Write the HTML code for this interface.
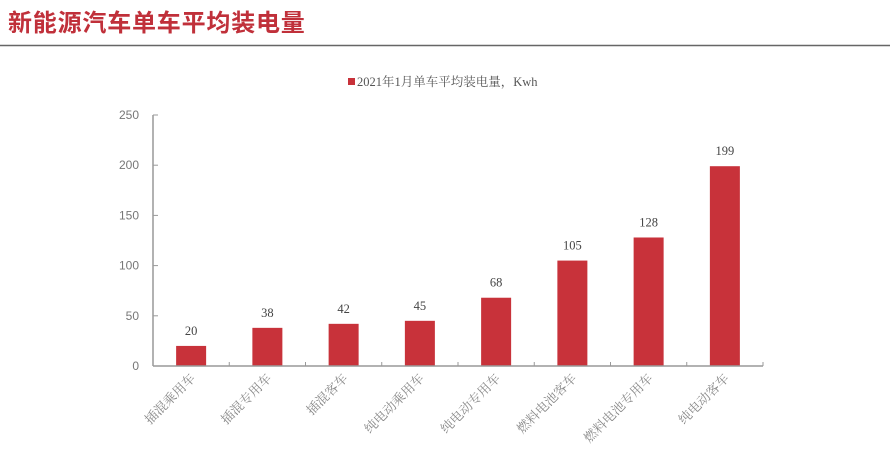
<!DOCTYPE html>
<html><head><meta charset="utf-8"><style>
body{margin:0;background:#fff;width:890px;height:465px;overflow:hidden}
svg{display:block}
</style></head><body>
<svg id="c" width="890" height="465">
<text x="8" y="31" font-family="'Liberation Sans','Noto Sans CJK SC',sans-serif" font-size="24" font-weight="bold" letter-spacing="0.8" fill="#c0303a">新能源汽车单车平均装电量</text>
<line x1="0" y1="45.5" x2="890" y2="45.5" stroke="#666" stroke-width="1.5"/>
<rect x="348" y="78" width="7" height="7" fill="#c8323a"/>
<text x="357" y="86" font-family="'Liberation Serif','Noto Serif CJK SC',serif" font-size="12.5" fill="#555">2021年1月单车平均装电量，Kwh</text>
<g id="plot"></g>
</svg>
<script>
const categories=["插混乘用车","插混专用车","插混客车","纯电动乘用车","纯电动专用车","燃料电池客车","燃料电池专用车","纯电动客车"];
const values=[20,38,42,45,68,105,128,199];
const yTicks=[0,50,100,150,200,250];
const X0=153,X1=763,Y0=366,Y1=115,YMAX=250;
const step=(X1-X0)/categories.length;
const y=v=>Y0-(v/YMAX)*(Y0-Y1);
const xc=i=>X0+step*(i+0.5);
const g=document.getElementById('plot');
const NS='http://www.w3.org/2000/svg';
function mk(t,a){const e=document.createElementNS(NS,t);for(const k in a)e.setAttribute(k,a[k]);g.appendChild(e);return e;}
const ser="'Liberation Serif','Noto Serif CJK SC',serif";
yTicks.forEach(v=>{
 const t=mk('text',{x:X0-14,y:y(v)+4,'text-anchor':'end','font-family':"'Liberation Sans',sans-serif",'font-size':12,fill:'#777'});
 t.textContent=v;
 
 
 const l=mk('line',{x1:X0,x2:X0+5,y1:y(v),y2:y(v),stroke:'#999'});
 
 
});
values.forEach((v,i)=>{
 const r=mk('rect',{x:xc(i)-15,y:y(v),width:30,height:Y0-y(v),fill:'#c8323a'});
 
 
 const t=mk('text',{x:xc(i),y:y(v)-11,'text-anchor':'middle','font-family':ser,'font-size':12.5,fill:'#444'});
 t.textContent=v;
 
 
 const c=mk('text',{x:0,y:0,'text-anchor':'end','font-family':ser,'font-size':13,fill:'#888',transform:`translate(${xc(i)+5},${Y0+13}) rotate(-45)`});
 c.textContent=categories[i];
 
 
});
for(let i=1;i<=categories.length;i++){
 const l=mk('line',{x1:X0+step*i,x2:X0+step*i,y1:Y0,y2:Y0-4,stroke:'#999'});
 
 
}
const ya=mk('line',{x1:X0,x2:X0,y1:Y1,y2:Y0,stroke:'#999','stroke-width':1.5});


const xa=mk('line',{x1:X0,x2:X1,y1:Y0,y2:Y0,stroke:'#999','stroke-width':1.5});


</script>
</body></html>
